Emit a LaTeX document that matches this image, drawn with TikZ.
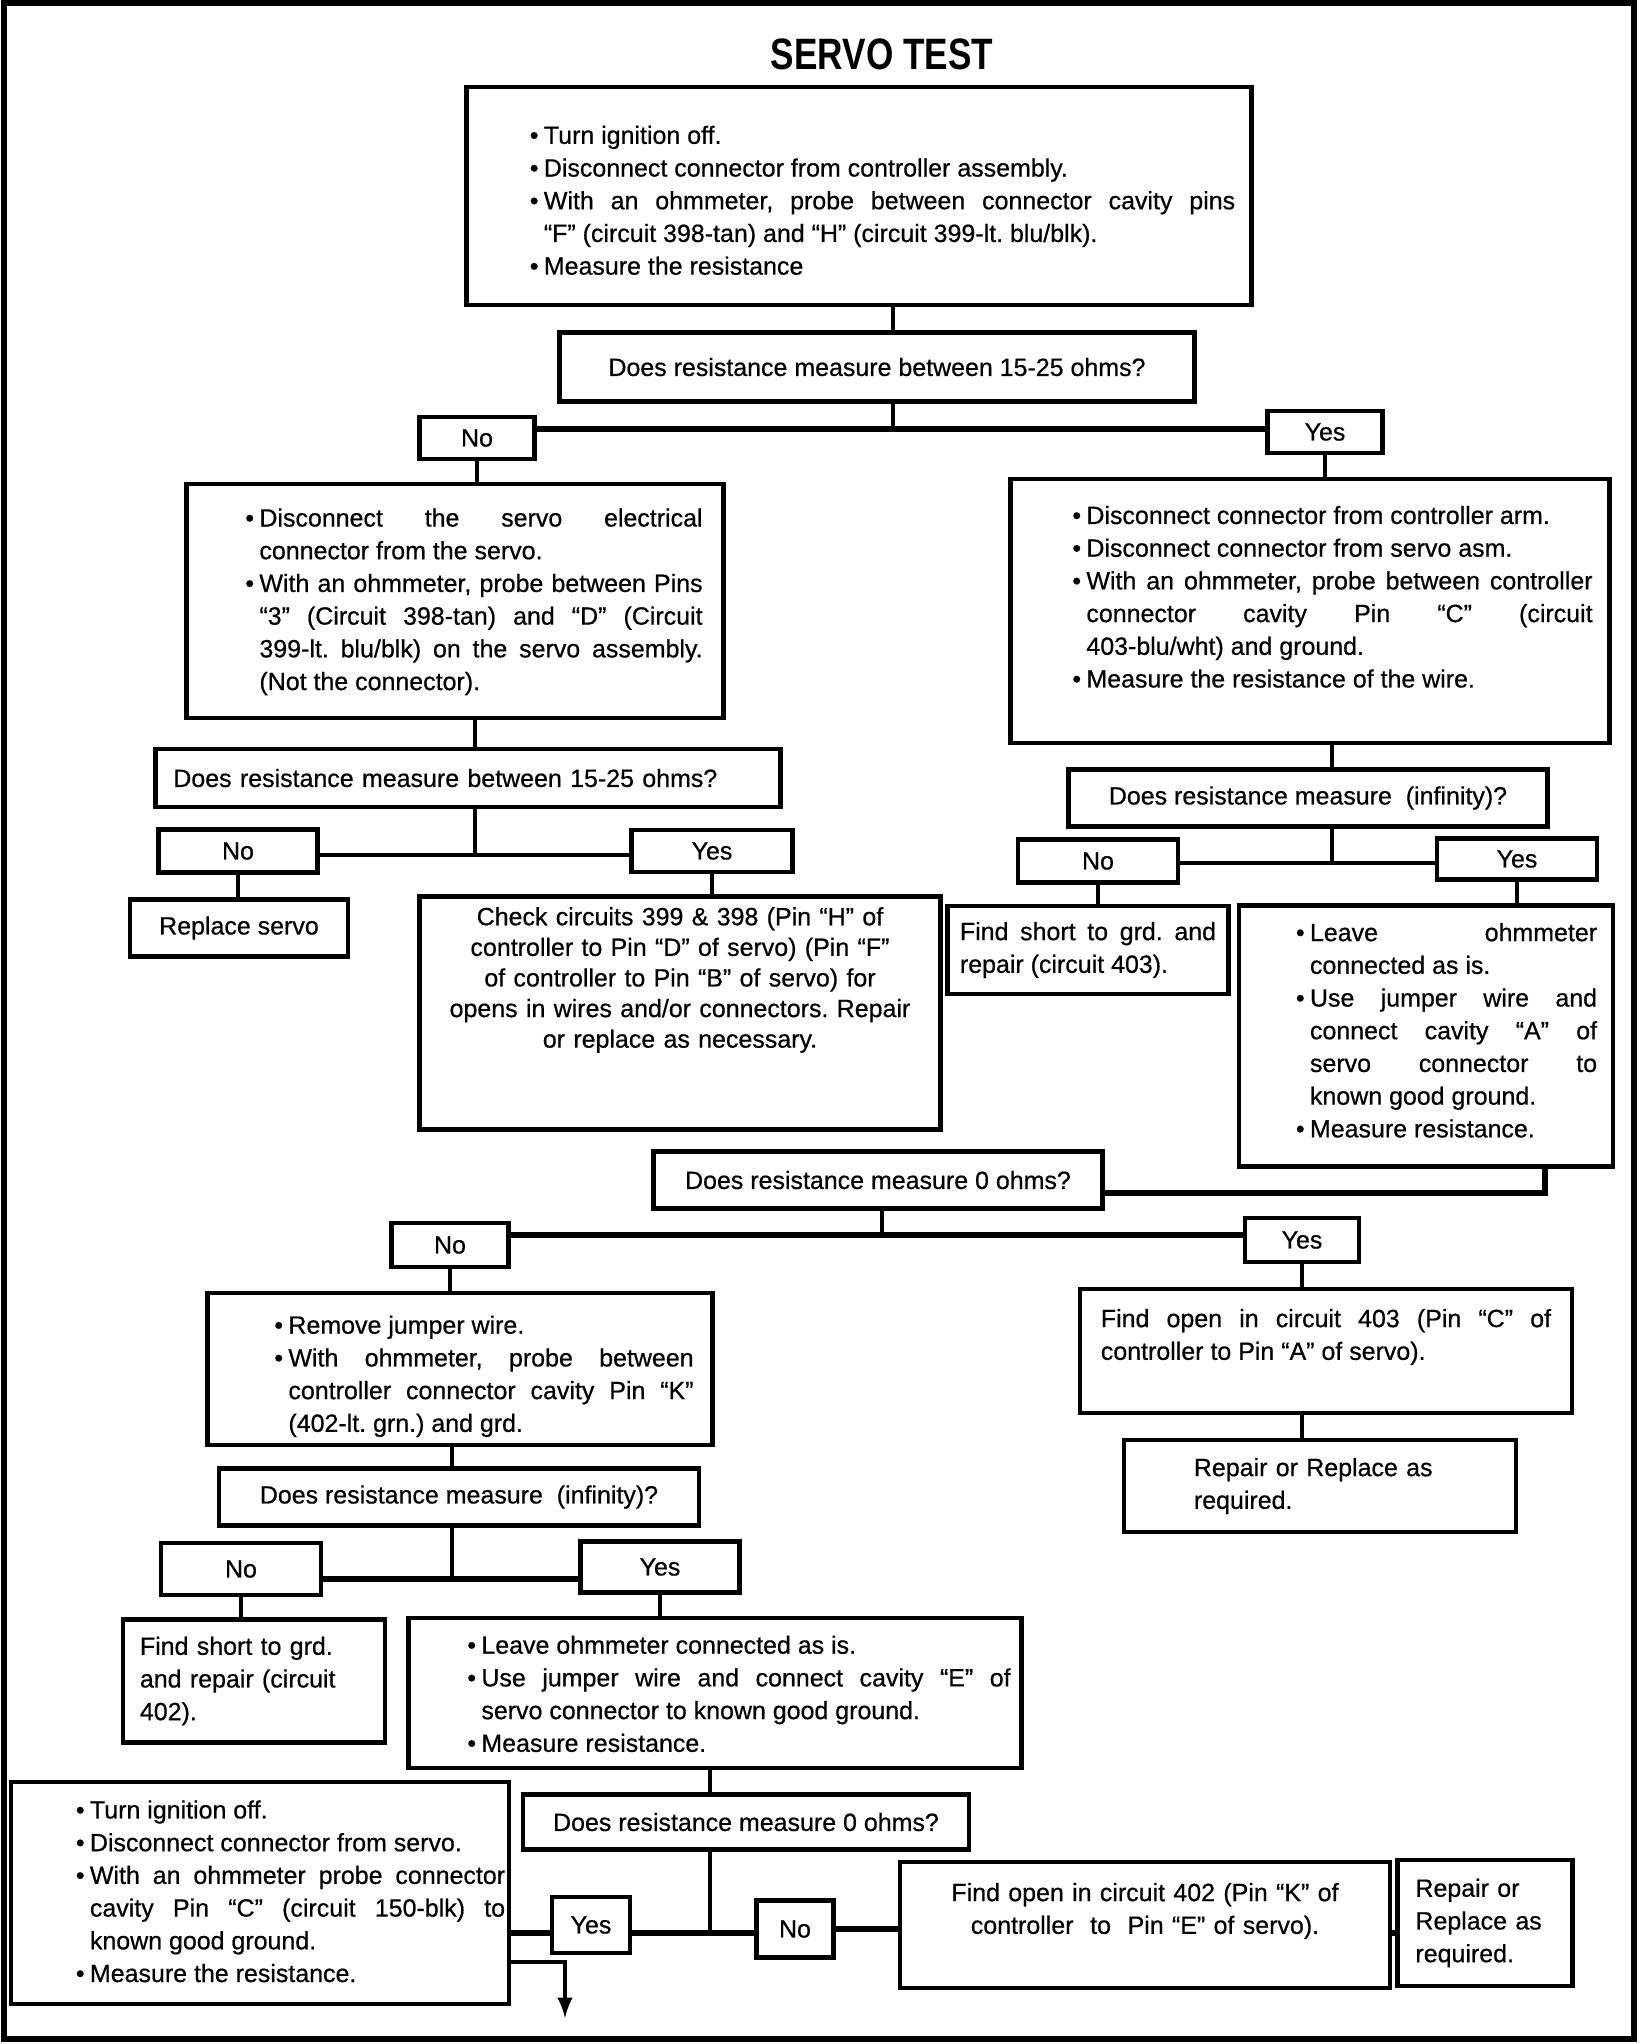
\documentclass[tikz,border=0pt]{standalone}
\usepackage{fontspec}
\setmainfont{Liberation Sans}[FakeBold=0.6]
\newfontfamily\titlefont{Liberation Sans}[FakeStretch=0.8]
\newlength\bulw
\setlength\bulw{4pt}
\newcommand\itm{\par\hangindent\bulw\hangafter1\noindent\makebox[\bulw][l]{\textbullet}}
\newcommand\lift[1]{\par\vskip#1\nointerlineskip\hbox{}}
\newcommand\flowfont{\fontsize{7.1}{9.3}\selectfont\frenchspacing\tolerance=10000\hbadness=10000\hyphenpenalty=10000\exhyphenpenalty=10000}
\begin{document}
\begin{tikzpicture}[x=0.01cm,y=-0.01cm,
    box/.style={draw, line width=1.3pt, inner sep=0pt, font=\flowfont},
    link/.style={line width=1pt},
    heavy/.style={line width=1.7pt}]
    \useasboundingbox (0,0) rectangle (1648,2044);
    \draw[line width=1.6pt] (4,3) rectangle (1634,2039);
    \node[font=\titlefont\bfseries\fontsize{12.5}{14}\selectfont] (title) at (882,54) {SERVO TEST};
    \node[box, minimum width=7.84cm, minimum height=2.18cm, text width=7.52cm, align=justify] (b1) at (859,196)
        {\leftskip=0.47cm
        \itm Turn ignition off.
        \itm Disconnect connector from controller assembly.
        \itm With an ohmmeter, probe between connector cavity pins\linebreak “F” (circuit 398-tan) and “H” (circuit 399-lt. blu/blk).
        \itm Measure the resistance\lift{0.06cm}};
    \node[box, minimum width=6.35cm, minimum height=0.69cm] (q1) at (877,367) {Does resistance measure between 15-25 ohms?};
    \node[box, minimum width=1.15cm, minimum height=0.42cm] (no1) at (477,438) {No};
    \node[box, minimum width=1.15cm, minimum height=0.42cm] (yes1) at (1325,432) {Yes};
    \node[box, minimum width=5.37cm, minimum height=2.34cm, text width=4.95cm, align=justify] (l1) at (455,601)
        {\leftskip=0.38cm
        \itm Disconnect the servo electrical\linebreak connector from the servo.
        \itm With an ohmmeter, probe between Pins\linebreak “3” (Circuit 398-tan) and “D” (Circuit\linebreak 399-lt. blu/blk) on the servo assembly.\linebreak (Not the connector).\lift{0.13cm}};
    \node[box, minimum width=5.99cm, minimum height=2.64cm, text width=5.65cm, align=justify] (r1) at (1310,611)
        {\leftskip=0.45cm
        \itm Disconnect connector from controller arm.
        \itm Disconnect connector from servo asm.
        \itm With an ohmmeter, probe between controller\linebreak connector cavity Pin “C” (circuit\linebreak 403-blu/wht) and ground.
        \itm Measure the resistance of the wire.\lift{0.43cm}};
    \node[box, minimum width=6.25cm, minimum height=0.58cm, text width=5.89cm, align=left] (q2l) at (468,778) {Does resistance measure between 15-25 ohms?};
    \node[box, minimum width=1.59cm, minimum height=0.43cm] (no2l) at (238,851) {No};
    \node[box, minimum width=1.61cm, minimum height=0.42cm] (yes2l) at (712,851) {Yes};
    \node[box, minimum width=2.18cm, minimum height=0.57cm] (rs) at (239,928) {Replace servo};
    \node[box, minimum width=5.21cm, minimum height=2.33cm, text width=4.9cm, align=center, font=\flowfont\fontsize{7.1}{8.7}\selectfont] (ck) at (680,1013)
        {Check circuits 399 \& 398 (Pin “H” of\\ controller to Pin “D” of servo) (Pin “F”\\ of controller to Pin “B” of servo) for\\ opens in wires and/or connectors. Repair\\ or replace as necessary.\lift{0.66cm}};
    \node[box, minimum width=4.79cm, minimum height=0.57cm] (q2r) at (1308,798) {Does resistance measure\ \ (infinity)?};
    \node[box, minimum width=1.60cm, minimum height=0.43cm] (no2r) at (1098,861) {No};
    \node[box, minimum width=1.60cm, minimum height=0.41cm] (yes2r) at (1517,859) {Yes};
    \node[box, minimum width=2.81cm, minimum height=0.88cm, text width=2.56cm, align=justify] (fs3) at (1088,950)
        {Find short to grd. and\linebreak repair (circuit 403).\par};
    \node[box, minimum width=3.74cm, minimum height=2.61cm, text width=3.42cm, align=justify] (lv1) at (1426,1036)
        {\leftskip=0.41cm
        \itm Leave ohmmeter\linebreak connected as is.
        \itm Use jumper wire and\linebreak connect cavity “A” of\linebreak servo connector to\linebreak known good ground.
        \itm Measure resistance.\lift{0.26cm}};
    \node[box, minimum width=4.49cm, minimum height=0.57cm] (q3) at (878,1180) {Does resistance measure 0 ohms?};
    \node[box, minimum width=1.17cm, minimum height=0.44cm] (no3) at (450,1245) {No};
    \node[box, minimum width=1.14cm, minimum height=0.44cm] (yes3) at (1302,1240) {Yes};
    \node[box, minimum width=5.05cm, minimum height=1.52cm, text width=4.67cm, align=justify] (rj) at (460,1369)
        {\leftskip=0.48cm
        \itm Remove jumper wire.
        \itm With ohmmeter, probe between\linebreak controller connector cavity Pin “K”\linebreak (402-lt. grn.) and grd.\par};
    \node[box, minimum width=4.92cm, minimum height=1.24cm, text width=4.5cm, align=justify] (fo3) at (1326,1351)
        {Find open in circuit 403 (Pin “C” of\linebreak controller to Pin “A” of servo).\lift{0.28cm}};
    \node[box, minimum width=3.92cm, minimum height=0.92cm, text width=2.52cm, align=left] (rr1) at (1320,1486)
        {Repair or Replace as\\ required.};
    \node[box, minimum width=4.80cm, minimum height=0.57cm] (q4) at (459,1497) {Does resistance measure\ \ (infinity)?};
    \node[box, minimum width=1.60cm, minimum height=0.52cm] (no4) at (241,1569) {No};
    \node[box, minimum width=1.59cm, minimum height=0.51cm] (yes4) at (660,1567) {Yes};
    \node[box, minimum width=2.62cm, minimum height=1.23cm, text width=2.28cm, align=left] (fs2) at (254,1681)
        {Find short to grd.\\ and repair (circuit\\ 402).};
    \node[box, minimum width=6.13cm, minimum height=1.50cm, text width=5.91cm, align=justify] (lv2) at (715,1693)
        {\leftskip=0.48cm
        \itm Leave ohmmeter connected as is.
        \itm Use jumper wire and connect cavity “E” of\linebreak servo connector to known good ground.
        \itm Measure resistance.\lift{0.13cm}};
    \node[box, minimum width=4.46cm, minimum height=0.55cm] (q5) at (746,1822) {Does resistance measure 0 ohms?};
    \node[box, minimum width=0.78cm, minimum height=0.56cm] (yes5) at (591,1925) {Yes};
    \node[box, minimum width=0.77cm, minimum height=0.57cm] (no5) at (795,1929) {No};
    \node[box, minimum width=4.98cm, minimum height=2.22cm, text width=4.90cm, align=justify] (ti) at (260,1893)
        {\leftskip=0.61cm
        \itm Turn ignition off.
        \itm Disconnect connector from servo.
        \itm With an ohmmeter probe connector\linebreak cavity Pin “C” (circuit 150-blk) to\linebreak known good ground.
        \itm Measure the resistance.\lift{0.18cm}};
    \node[box, minimum width=4.90cm, minimum height=1.26cm, text width=4.6cm, align=center] (fo2) at (1145,1925)
        {Find open in circuit 402 (Pin “K” of\\ controller\ \ to\ \ Pin “E” of servo).\lift{0.28cm}};
    \node[box, minimum width=1.75cm, minimum height=1.26cm, text width=1.39cm, align=left] (rr2) at (1485,1923)
        {Repair or\\ Replace as\\ required.};
    \coordinate (j1) at (893,429);
    \coordinate (j2) at (475,855);
    \coordinate (j3) at (1332,863);
    \coordinate (k3) at (1545,1193);
    \coordinate (j4) at (882,1235);
    \coordinate (j5) at (452,1579);
    \coordinate (j6) at (710,1933);
    \coordinate (out) at (565,2018);
    \draw[link] (b1.south -| j1) -- (q1.north -| j1);
    \draw[link] (q1.south -| j1) -- (j1);
    \draw[heavy] (no1.east |- j1) -- (yes1.west |- j1);
    \draw[link] (no1.south) -- (l1.north -| no1.south);
    \draw[link] (yes1.south) -- (r1.north -| yes1.south);
    \draw[link] (l1.south -| j2) -- (q2l.north -| j2);
    \draw[link] (q2l.south -| j2) -- (j2);
    \draw[link] (no2l.east |- j2) -- (yes2l.west |- j2);
    \draw[link] (no2l.south) -- (rs.north -| no2l.south);
    \draw[link] (yes2l.south) -- (ck.north -| yes2l.south);
    \draw[link] (r1.south -| j3) -- (q2r.north -| j3);
    \draw[link] (q2r.south -| j3) -- (j3);
    \draw[link] (no2r.east |- j3) -- (yes2r.west |- j3);
    \draw[link] (no2r.south) -- (fs3.north -| no2r.south);
    \draw[link] (yes2r.south) -- (lv1.north -| yes2r.south);
    \draw[heavy] (lv1.south -| k3) |- (q3.east |- k3);
    \draw[link] (q3.south -| j4) -- (j4);
    \draw[heavy] (no3.east |- j4) -- (yes3.west |- j4);
    \draw[link] (no3.south) -- (rj.north -| no3.south);
    \draw[link] (yes3.south) -- (fo3.north -| yes3.south);
    \draw[link] (fo3.south -| yes3.south) -- (rr1.north -| yes3.south);
    \draw[link] (rj.south -| j5) -- (q4.north -| j5);
    \draw[link] (q4.south -| j5) -- (j5);
    \draw[heavy] (no4.east |- j5) -- (yes4.west |- j5);
    \draw[link] (no4.south) -- (fs2.north -| no4.south);
    \draw[link] (yes4.south) -- (lv2.north -| yes4.south);
    \draw[link] (lv2.south -| j6) -- (q5.north -| j6);
    \draw[link] (q5.south -| j6) -- (j6);
    \draw[heavy] (yes5.east |- j6) -- (no5.west |- j6);
    \draw[heavy] (yes5.west |- j6) -- (ti.east |- j6);
    \draw[heavy] (no5.east) -- (fo2.west |- no5.east);
    \draw[heavy] (fo2.east |- j6) -- (rr2.west |- j6);
    \draw[link, ->, >=latex] (ti.east |- 0,1962) -| (out);
\end{tikzpicture}
\end{document}
